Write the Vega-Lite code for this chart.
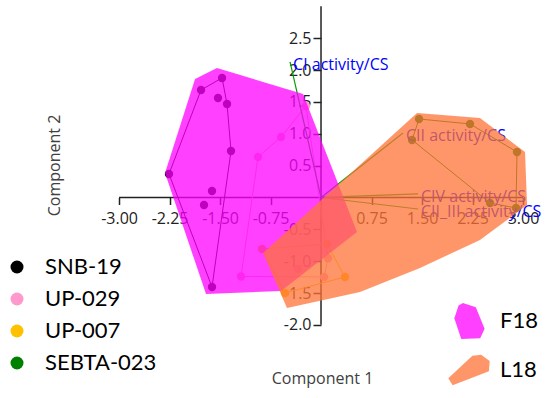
{
  "$schema": "https://vega.github.io/schema/vega-lite/v6.json",
  "width": 550,
  "height": 398,
  "autosize": {"type": "none"},
  "padding": 0,
  "background": "white",
  "config": {
    "view": {"stroke": null},
    "font": "Open Sans",
    "locale": {"number": {"decimal": ".", "thousands": ",", "grouping": [3], "currency": ["$", ""], "minus": "-"}}
  },
  "datasets": {
    "axislines": [
      {"x": -3, "y": 0, "xe": 3, "ye": 0},
      {"x": 0, "y": -2, "xe": 0, "ye": 3}
    ],
    "hulls": [
      {"g": "F18", "i": 1, "x": -1.871, "y": 1.86},
      {"g": "F18", "i": 2, "x": -1.545, "y": 2.033},
      {"g": "F18", "i": 3, "x": -0.267, "y": 1.625},
      {"g": "F18", "i": 4, "x": 0.535, "y": -0.542},
      {"g": "F18", "i": 5, "x": -0.594, "y": -1.468},
      {"g": "F18", "i": 6, "x": -1.708, "y": -1.515},
      {"g": "F18", "i": 7, "x": -2.317, "y": 0.385},
      {"g": "L18", "i": 1, "x": 1.426, "y": 1.327},
      {"g": "L18", "i": 2, "x": 2.361, "y": 1.248},
      {"g": "L18", "i": 3, "x": 3.03, "y": 0.714},
      {"g": "L18", "i": 4, "x": 3.06, "y": -0.118},
      {"g": "L18", "i": 5, "x": 2.361, "y": -0.667},
      {"g": "L18", "i": 6, "x": 1.47, "y": -1.107},
      {"g": "L18", "i": 7, "x": 0.579, "y": -1.484},
      {"g": "L18", "i": 8, "x": -0.505, "y": -1.735},
      {"g": "L18", "i": 9, "x": -0.861, "y": -0.871}
    ],
    "points": [
      {"cell": "SNB-19", "x": -1.47, "y": 1.876},
      {"cell": "SNB-19", "x": -1.782, "y": 1.688},
      {"cell": "SNB-19", "x": -1.53, "y": 1.562},
      {"cell": "SNB-19", "x": -1.396, "y": 1.468},
      {"cell": "SNB-19", "x": -1.337, "y": 0.73},
      {"cell": "SNB-19", "x": -2.258, "y": 0.369},
      {"cell": "SNB-19", "x": -1.619, "y": 0.102},
      {"cell": "SNB-19", "x": -1.738, "y": -0.118},
      {"cell": "SNB-19", "x": -1.619, "y": -1.405},
      {"cell": "UP-029", "x": -0.223, "y": 1.436},
      {"cell": "UP-029", "x": -0.594, "y": 0.949},
      {"cell": "UP-029", "x": -0.936, "y": 0.636},
      {"cell": "UP-029", "x": -1.188, "y": -1.24},
      {"cell": "UP-029", "x": -0.342, "y": -1.122},
      {"cell": "UP-029", "x": 0.045, "y": -1.248},
      {"cell": "UP-029", "x": 0.104, "y": -0.954},
      {"cell": "UP-007", "x": -0.876, "y": -0.808},
      {"cell": "UP-007", "x": 0.089, "y": -0.73},
      {"cell": "UP-007", "x": 0.356, "y": -1.248},
      {"cell": "UP-007", "x": -0.535, "y": -1.499},
      {"cell": "SEBTA-023", "x": 1.456, "y": 1.232},
      {"cell": "SEBTA-023", "x": 2.213, "y": 1.154},
      {"cell": "SEBTA-023", "x": 2.911, "y": 0.714},
      {"cell": "SEBTA-023", "x": 1.352, "y": 0.903},
      {"cell": "SEBTA-023", "x": 2.51, "y": -0.086},
      {"cell": "SEBTA-023", "x": 2.896, "y": -0.165}
    ],
    "cellhulls": [
      {"c": "SNB-19", "i": 1, "x": -2.258, "y": 0.369},
      {"c": "SNB-19", "i": 2, "x": -1.782, "y": 1.688},
      {"c": "SNB-19", "i": 3, "x": -1.47, "y": 1.876},
      {"c": "SNB-19", "i": 4, "x": -1.396, "y": 1.468},
      {"c": "SNB-19", "i": 5, "x": -1.337, "y": 0.73},
      {"c": "SNB-19", "i": 6, "x": -1.619, "y": -1.405},
      {"c": "UP-029", "i": 1, "x": -0.223, "y": 1.436},
      {"c": "UP-029", "i": 2, "x": 0.104, "y": -0.954},
      {"c": "UP-029", "i": 3, "x": 0.045, "y": -1.248},
      {"c": "UP-029", "i": 4, "x": -1.188, "y": -1.24},
      {"c": "UP-029", "i": 5, "x": -0.936, "y": 0.636},
      {"c": "UP-029", "i": 6, "x": -0.594, "y": 0.949},
      {"c": "UP-007", "i": 1, "x": -0.876, "y": -0.808},
      {"c": "UP-007", "i": 2, "x": 0.089, "y": -0.73},
      {"c": "UP-007", "i": 3, "x": 0.356, "y": -1.248},
      {"c": "UP-007", "i": 4, "x": -0.535, "y": -1.499},
      {"c": "SEBTA-023", "i": 1, "x": 1.352, "y": 0.903},
      {"c": "SEBTA-023", "i": 2, "x": 1.456, "y": 1.232},
      {"c": "SEBTA-023", "i": 3, "x": 2.213, "y": 1.154},
      {"c": "SEBTA-023", "i": 4, "x": 2.911, "y": 0.714},
      {"c": "SEBTA-023", "i": 5, "x": 2.896, "y": -0.165},
      {"c": "SEBTA-023", "i": 6, "x": 2.51, "y": -0.086}
    ],
    "vectors": [
      {"label": "CI activity/CS", "x": -0.46, "y": 2.127},
      {"label": "CII activity/CS", "x": 1.218, "y": 1.013},
      {"label": "CIV activity/CS", "x": 1.441, "y": 0.055},
      {"label": "CII_III activity/CS", "x": 1.441, "y": -0.181}
    ]
  },
  "encoding": {
    "x": {
      "field": "x",
      "type": "quantitative",
      "scale": {"domain": [-4.768, 3.401], "nice": false, "zero": false},
      "axis": {
        "offset": -200.5,
        "domain": false,
        "grid": false,
        "values": [-3, -2.25, -1.5, -0.75, 0.75, 1.5, 2.25, 3],
        "format": ".2f",
        "labelFont": "Open Sans",
        "labelFontSize": 16,
        "labelColor": "#222222",
        "labelPadding": 6,
        "tickSize": 7,
        "tickColor": "#222222",
        "tickWidth": 1.5,
        "title": "Component 1",
        "titleFont": "Open Sans",
        "titleFontSize": 16,
        "titleFontWeight": "normal",
        "titleColor": "#404040",
        "titleX": 322,
        "titleY": 180.5,
        "titleAlign": "center",
        "titleBaseline": "middle",
        "zindex": 0
      }
    },
    "y": {
      "field": "y",
      "type": "quantitative",
      "scale": {"domain": [-3.148, 3.1], "nice": false, "zero": false},
      "axis": {
        "offset": -321,
        "domain": false,
        "grid": false,
        "values": [-2, -1.5, -1, -0.5, 0.5, 1, 1.5, 2, 2.5],
        "format": ".1f",
        "labelFont": "Open Sans",
        "labelFontSize": 16,
        "labelColor": "#222222",
        "labelPadding": 2,
        "tickSize": 8,
        "tickColor": "#222222",
        "tickWidth": 1.5,
        "title": "Component 2",
        "titleFont": "Open Sans",
        "titleFontSize": 16,
        "titleFontWeight": "normal",
        "titleColor": "#404040",
        "titleX": -267,
        "titleY": 165,
        "titleAngle": -90,
        "titleAlign": "center",
        "titleBaseline": "middle",
        "zindex": 0
      }
    }
  },
  "layer": [
    {
      "data": {"name": "axislines"},
      "mark": {"type": "rule", "color": "#222222", "strokeWidth": 1.5},
      "encoding": {"x2": {"field": "xe"}, "y2": {"field": "ye"}}
    },
    {
      "data": {"name": "cellhulls"},
      "transform": [{"filter": "datum.c === 'SNB-19'"}],
      "mark": {"type": "line", "interpolate": "linear-closed", "strokeWidth": 1, "color": "#000000"},
      "encoding": {"order": {"field": "i", "type": "quantitative"}}
    },
    {
      "data": {"name": "cellhulls"},
      "transform": [{"filter": "datum.c === 'UP-029'"}],
      "mark": {"type": "line", "interpolate": "linear-closed", "strokeWidth": 1, "color": "#FF99CC"},
      "encoding": {"order": {"field": "i", "type": "quantitative"}}
    },
    {
      "data": {"name": "cellhulls"},
      "transform": [{"filter": "datum.c === 'UP-007'"}],
      "mark": {"type": "line", "interpolate": "linear-closed", "strokeWidth": 1, "color": "#FFC000"},
      "encoding": {"order": {"field": "i", "type": "quantitative"}}
    },
    {
      "data": {"name": "cellhulls"},
      "transform": [{"filter": "datum.c === 'SEBTA-023'"}],
      "mark": {"type": "line", "interpolate": "linear-closed", "strokeWidth": 1, "color": "#008000"},
      "encoding": {"order": {"field": "i", "type": "quantitative"}}
    },
    {
      "data": {"name": "points"},
      "mark": {"type": "point", "filled": true, "size": 70, "opacity": 1},
      "encoding": {
        "color": {
          "field": "cell",
          "type": "nominal",
          "scale": {"domain": ["SNB-19", "UP-029", "UP-007", "SEBTA-023"], "range": ["#000000", "#FF99CC", "#FFC000", "#008000"]},
          "legend": {
            "title": null,
            "orient": "none",
            "direction": "vertical",
            "legendX": 6,
            "legendY": 256,
            "padding": 0,
            "symbolType": "circle",
            "symbolSize": 169,
            "symbolOpacity": 1,
            "labelFont": "Lato",
            "labelFontSize": 22,
            "labelColor": "#000000",
            "labelOffset": 17,
            "rowPadding": 10
          }
        }
      }
    },
    {
      "data": {"name": "vectors"},
      "mark": {"type": "rule", "color": "#00A000", "strokeWidth": 1.2},
      "encoding": {"x2": {"datum": 0}, "y2": {"datum": 0}}
    },
    {
      "data": {"name": "vectors"},
      "mark": {"type": "text", "align": "left", "baseline": "middle", "dx": 3, "dy": 3, "font": "Open Sans", "fontSize": 16, "color": "#0000FF"},
      "encoding": {"text": {"field": "label"}}
    },
    {
      "data": {"name": "hulls"},
      "mark": {"type": "line", "interpolate": "linear-closed", "strokeOpacity": 0, "fillOpacity": 0.75},
      "encoding": {
        "fill": {
          "field": "g",
          "type": "nominal",
          "scale": {"domain": ["F18", "L18"], "range": ["#FF00FF", "#FF7337"]},
          "legend": {
            "title": null,
            "orient": "none",
            "direction": "vertical",
            "legendX": 450,
            "legendY": 302,
            "padding": 0,
            "symbolSize": 1444,
            "symbolOpacity": 0.75,
            "symbolStrokeWidth": 0,
            "symbolStrokeColor": "transparent",
            "labelFont": "Lato",
            "labelFontSize": 22,
            "labelColor": "#000000",
            "labelOffset": 12,
            "rowPadding": 11
          }
        },
        "detail": {"field": "g"},
        "order": {"field": "i", "type": "quantitative"}
      }
    },
    {
      "data": {"name": "hulls"},
      "mark": {"type": "point", "filled": true, "opacity": 0},
      "encoding": {
        "shape": {
          "field": "g",
          "type": "nominal",
          "scale": {"domain": ["F18", "L18"], "range": ["M-0.55,-0.82L-0.32,-0.95L0.36,-0.73L0.82,0.41L0.59,0.91L-0.41,0.95L-0.77,-0.14Z", "M-1.09,0.43L0.18,-0.75L0.64,-0.8L1.09,-0.48L1.05,0.07L-0.86,0.8Z"]},
          "legend": {
            "title": null,
            "orient": "none",
            "direction": "vertical",
            "legendX": 450,
            "legendY": 302,
            "padding": 0,
            "symbolSize": 1444,
            "symbolOpacity": 0.75,
            "symbolStrokeWidth": 0,
            "symbolStrokeColor": "transparent",
            "labelFont": "Lato",
            "labelFontSize": 22,
            "labelColor": "#000000",
            "labelOffset": 12,
            "rowPadding": 11
          }
        }
      }
    }
  ]
}
